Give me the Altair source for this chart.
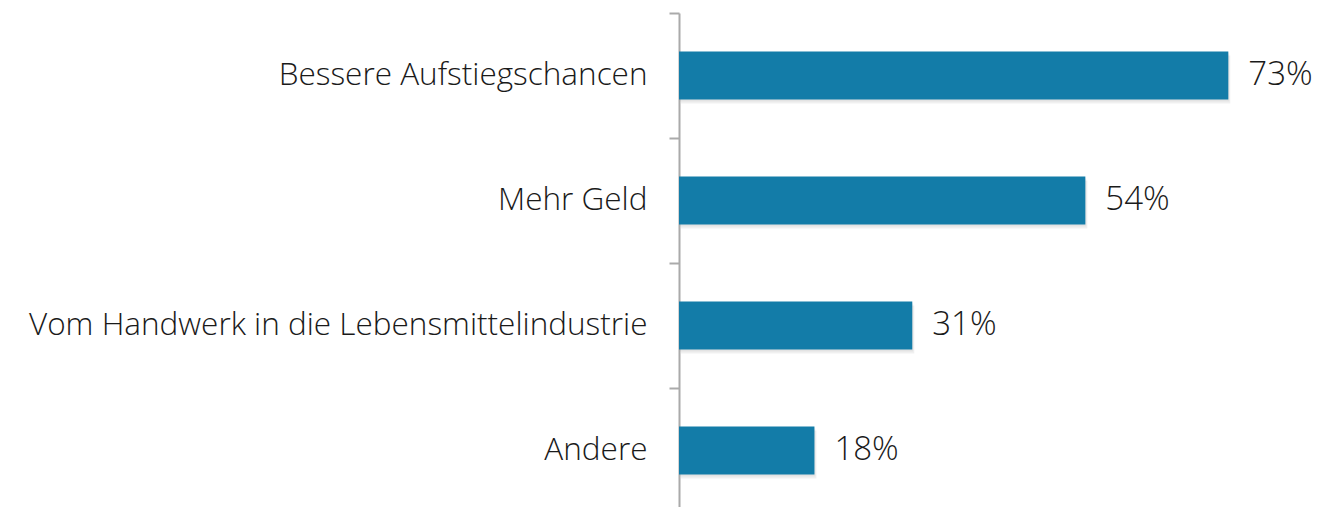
import altair as alt
import pandas as pd

categories = ["Bessere Aufstiegschancen", "Mehr Geld", "Vom Handwerk in die Lebensmittelindustrie", "Andere"]
values = [73, 54, 31, 18]
labels = ["73%", "54%", "31%", "18%"]

df = pd.DataFrame({"cat": categories, "val": values, "lab": labels})

FONT = "Open Sans"
y = alt.Y("cat:N", sort=categories, title=None,
          axis=alt.Axis(labelFontSize=31.5, labelFont=FONT, labelFontWeight=300, labelColor="#1a1a1a",
                        labelPadding=22, tickBand="extent", tickSize=10, tickColor="#aaaaaa",
                        tickWidth=2, domainColor="#aaaaaa", domainWidth=2, labelLimit=800))
x = alt.X("val:Q", scale=alt.Scale(domain=[0, 80], nice=False), axis=None)

base = alt.Chart(df)
shadow1 = base.mark_bar(size=48, color="#000000", opacity=0.06, yOffset=4, xOffset=2).encode(x=x, y=y)
shadow2 = base.mark_bar(size=48, color="#000000", opacity=0.05, yOffset=2, xOffset=1).encode(x=x, y=y)
bars = base.mark_bar(size=48, color="#137ca8").encode(x=x, y=y)
text = base.mark_text(align="left", dx=20, dy=-1, fontSize=33, font=FONT, fontWeight=300, color="#1a1a1a").encode(
    x=x, y=y, text="lab:N")

chart = alt.layer(shadow1, shadow2, bars, text).properties(
    width=602, height=500,
    autosize=alt.AutoSizeParams(type="none"),
    padding={"left": 671, "top": 5, "right": 33, "bottom": 0},
).configure_view(stroke=None).configure_scale(bandPaddingInner=0, bandPaddingOuter=0)

chart.save("out.html", embed_options={"renderer": "svg", "actions": False})
